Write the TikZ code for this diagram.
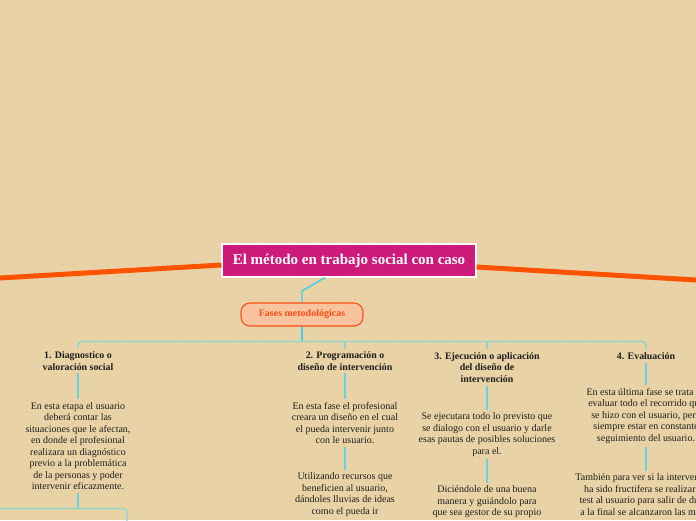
\documentclass[tikz,border=0pt]{standalone}
\usepackage{fontspec}
\setmainfont{Liberation Serif}

\definecolor{bgc}{HTML}{E9D3A6}
\definecolor{dotc}{HTML}{DFC89A}
\definecolor{pinkc}{HTML}{CD1A7B}
\definecolor{orangec}{HTML}{FF5300}
\definecolor{fasefill}{HTML}{F7C49D}
\definecolor{faseline}{HTML}{FF4D14}
\definecolor{cyanc}{HTML}{3ECFEC}
\definecolor{linkc}{HTML}{66D3E0}
\definecolor{tealc}{HTML}{86D6D2}
\definecolor{inkc}{HTML}{1E1E1E}

\tikzset{
  maintopic/.style={fill=pinkc, draw=white, line width=1.2pt, text=white,
    font=\bfseries\fontsize{15}{17}\selectfont,
    minimum width=254pt, minimum height=33pt, inner sep=0pt},
  subtopic/.style={fill=fasefill, draw=faseline, line width=1.1pt, rounded corners=9pt,
    text=faseline, font=\bfseries\fontsize{10}{12}\selectfont,
    minimum width=122pt, minimum height=23pt, inner sep=0pt},
  phase/.style={align=center, text=inkc, font=\bfseries\fontsize{9.9}{11.6}\selectfont, inner sep=3pt},
  note/.style={align=center, text=inkc, font=\fontsize{10}{11.45}\selectfont, inner sep=3pt},
  branch/.style={orangec, line width=5pt},
  mainlink/.style={cyanc, line width=1.4pt},
  link/.style={linkc, line width=1.2pt},
  bus/.style={tealc, line width=1.3pt, rounded corners=4pt},
}

\begin{document}
\begin{tikzpicture}[x=1pt,y=-1pt]
    % canvas
    \path[use as bounding box, clip] (0,0) rectangle (696,520);
    \fill[bgc] (0,0) rectangle (696,520);
    \foreach \i in {0,...,62} \foreach \j in {0,...,46}
        \fill[dotc] (\i*11.3+5,\j*11.3+5) circle (0.9pt);

    % central topic
    \node[maintopic] (main) at (349,260.5) {El método en trabajo social con caso};
    \coordinate (lend) at (0,278);
    \coordinate (rend) at (696,280);
    \draw[branch] ([yshift=-4.5pt]main.west) -- (lend);
    \draw[branch] ([yshift=-6.5pt]main.east) -- (rend);

    % fases
    \node[subtopic] (fases) at (302,314.5) {Fases metodológicas};
    \coordinate (knee) at (302,291);
    \draw[mainlink] ([xshift=-24pt]main.south) -- (knee) -- (fases.north);

    % phases
    \node[phase] (ph1) at (78,361) {1. Diagnostico o\\valoración social};
    \node[phase] (ph2) at (345,361) {2. Programación o\\diseño de intervención};
    \node[phase] (ph3) at (487,367.5) {3. Ejecución o aplicación\\del diseño de\\intervención};
    \node[phase] (ph4) at (646,356) {4. Evaluación};
    \coordinate (busy) at (0,341.5);
    \draw[mainlink] (fases.south) -- (fases.south |- busy);
    \draw[bus] (ph1.north) |- (ph4.north |- busy) -- (ph4.north);
    \draw[bus] (ph2.north |- busy) -- (ph2.north);
    \draw[bus] (ph3.north |- busy) -- (ph3.north);

    % phase 1
    \node[note] (n1a) at (78,446) {En esta etapa el usuario\\deberá contar las\\situaciones que le afectan,\\en donde el profesional\\realizara un diagnóstico\\previo a la problemática\\de la personas y poder\\intervenir eficazmente.};
    \draw[link] (ph1.south) -- (n1a.north);
    \coordinate (sub1) at (78,508.5);
    \coordinate (sub1l) at (0,508.5);
    \coordinate (sub1r) at (127,525);
    \draw[link] (n1a.south) -- (sub1);
    \draw[bus] (sub1l) -| (sub1r);

    % phase 2
    \node[note] (n2a) at (345,423) {En esta fase el profesional\\creara un diseño en el cual\\el pueda intervenir junto\\con le usuario.};
    \node[note] (n2b) at (345,494.5) {Utilizando recursos que\\beneficien al usuario,\\dándoles lluvias de ideas\\como el pueda ir};
    \draw[link] (ph2.south) -- (n2a.north);
    \draw[link] (n2a.south) -- (n2b.north);

    % phase 3
    \node[note] (n3a) at (487,434.5) {Se ejecutara todo lo previsto que\\se dialogo con el usuario y darle\\esas pautas de posibles soluciones\\para el.};
    \node[note] (n3b) at (487,502) {Diciéndole de una buena\\manera y guiándolo para\\que sea gestor de su propio};
    \draw[link] (ph3.south) -- (n3a.north);
    \draw[link] (n3a.south) -- (n3b.north);

    % phase 4
    \node[note] (n4a) at (646,416) {En esta última fase se trata de\\evaluar todo el recorrido que\\se hizo con el usuario, pero\\siempre estar en constante\\seguimiento del usuario.};
    \node[note] (n4b) at (646,494.5) {También para ver si la intervención\\ha sido fructifera se realizarían\\test al usuario para salir de dudas\\a la final se alcanzaron las metas};
    \draw[link] (ph4.south) -- (n4a.north);
    \draw[link] (n4a.south) -- (n4b.north);
\end{tikzpicture}
\end{document}
